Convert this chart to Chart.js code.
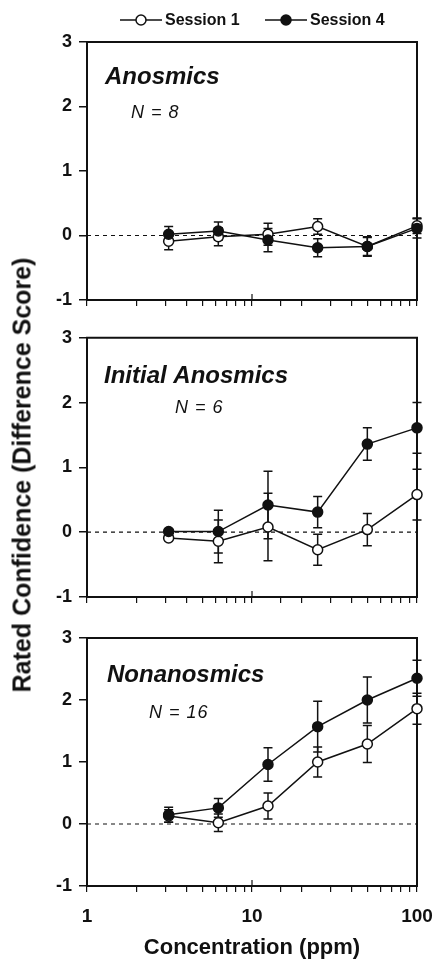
<!DOCTYPE html>
<html><head><meta charset="utf-8">
<script src="https://cdn.jsdelivr.net/npm/chart.js@4.4.1/dist/chart.umd.min.js"></script>
<style>
html,body{margin:0;padding:0;background:#fff;width:434px;height:959px;overflow:hidden;position:relative;}
canvas{position:absolute;left:0;}
#ytitle{position:absolute;left:22px;top:475px;transform:translate(-50%,-50%) rotate(-90deg);white-space:nowrap;font:bold 25px "Liberation Sans",Arial,sans-serif;color:#111;}
</style></head><body>
<canvas id="c1" width="434" height="320" style="top:0px"></canvas>
<canvas id="c2" width="434" height="300" style="top:320px"></canvas>
<canvas id="c3" width="434" height="339" style="top:620px"></canvas>
<div id="ytitle">Rated Confidence (Difference Score)</div>
<script>
// ---- data ----
const concentrations = [3.125, 6.25, 12.5, 25, 50, 100];
const seriesNames = ['Session 1', 'Session 4'];
const panelTitles = ['Anosmics', 'Initial Anosmics', 'Nonanosmics'];
const panelN = ['N = 8', 'N = 6', 'N = 16'];

const anosmicsS1 = [-0.09, -0.02, 0.02, 0.14, -0.17, 0.15];
const anosmicsS1Err = [0.13, 0.14, 0.17, 0.12, 0.14, 0.12];
const anosmicsS4 = [0.02, 0.07, -0.07, -0.19, -0.17, 0.11];
const anosmicsS4Err = [0.12, 0.14, 0.18, 0.14, 0.15, 0.15];

const initialS1 = [-0.09, -0.14, 0.08, -0.27, 0.04, 0.58];
const initialS1Err = [0.04, 0.33, 0.52, 0.24, 0.25, 0.39];
const initialS4 = [0.01, 0.01, 0.42, 0.31, 1.36, 1.61];
const initialS4Err = [0.04, 0.33, 0.52, 0.24, 0.25, 0.39];

const nonanosmicsS1 = [0.13, 0.02, 0.29, 1.00, 1.29, 1.86];
const nonanosmicsS1Err = [0.10, 0.14, 0.21, 0.24, 0.30, 0.25];
const nonanosmicsS4 = [0.15, 0.26, 0.96, 1.57, 2.00, 2.35];
const nonanosmicsS4Err = [0.12, 0.15, 0.27, 0.41, 0.37, 0.29];

const zeroLineX = [1, 100];
const xTickLabels = [1, 10, 100];
const yTickValues = [-1, 0, 1, 2, 3];
const xTitle = 'Concentration (ppm)';

// ---- style ----
const INK = '#111';
const FAMILY = '"Liberation Sans", Arial, Helvetica, sans-serif';
Chart.defaults.font.family = FAMILY;
Chart.defaults.color = INK;

const errorBars = {
  id: 'errorBars',
  beforeDatasetsDraw(chart) {
    const {ctx} = chart;
    const ys = chart.scales.y;
    ctx.save();
    ctx.strokeStyle = INK;
    ctx.lineWidth = 1.5;
    chart.data.datasets.forEach((ds, i) => {
      if (!ds.errors) return;
      const meta = chart.getDatasetMeta(i);
      meta.data.forEach((pt, j) => {
        const v = ds.data[j].y, e = ds.errors[j];
        const yt = ys.getPixelForValue(v + e), yb = ys.getPixelForValue(v - e);
        ctx.beginPath();
        ctx.moveTo(pt.x, yt); ctx.lineTo(pt.x, yb);
        ctx.moveTo(pt.x - 4.5, yt); ctx.lineTo(pt.x + 4.5, yt);
        ctx.moveTo(pt.x - 4.5, yb); ctx.lineTo(pt.x + 4.5, yb);
        ctx.stroke();
      });
    });
    ctx.restore();
  }
};

const frameBox = {
  id: 'frameBox',
  beforeDatasetsDraw(chart) {
    const {ctx, chartArea: a} = chart;
    const xs = chart.scales.x;
    ctx.save();
    ctx.strokeStyle = INK;
    ctx.lineWidth = 2;
    ctx.beginPath();
    ctx.moveTo(a.left - 1, a.top);
    ctx.lineTo(a.right, a.top);
    ctx.lineTo(a.right, a.bottom + 1);
    ctx.stroke();
    // decade ticks also reach a little into the plot
    ctx.lineWidth = 1.2;
    xTickLabels.forEach(v => {
      const px = Math.round(xs.getPixelForValue(v));
      ctx.beginPath();
      ctx.moveTo(px, a.bottom);
      ctx.lineTo(px, a.bottom - 6);
      ctx.stroke();
    });
    ctx.restore();
  }
};

const panelText = {
  id: 'panelText',
  afterDatasetsDraw(chart, args, o) {
    if (!o || !o.title) return;
    const {ctx, chartArea: a} = chart;
    ctx.save();
    ctx.fillStyle = INK;
    ctx.textAlign = 'left';
    ctx.textBaseline = 'alphabetic';
    ctx.font = 'italic bold 24px ' + FAMILY;
    ctx.fillText(o.title, a.left + o.tx, a.top + o.ty);
    ctx.font = 'italic 18px ' + FAMILY;
    try { ctx.letterSpacing = '1px'; } catch (e) {}
    ctx.fillText(o.n, a.left + o.nx, a.top + o.ny);
    ctx.restore();
  }
};

const seriesKey = {
  id: 'seriesKey',
  afterDraw(chart, args, o) {
    if (!o || !o.items) return;
    const {ctx} = chart;
    ctx.save();
    chart.data.datasets.slice(0, 2).forEach((ds, i) => {
      const x = o.items[i], y = o.y;
      ctx.strokeStyle = INK;
      ctx.lineWidth = 1.5;
      ctx.beginPath(); ctx.moveTo(x, y); ctx.lineTo(x + 42, y); ctx.stroke();
      ctx.beginPath(); ctx.arc(x + 21, y, 5, 0, Math.PI * 2);
      ctx.fillStyle = ds.pointBackgroundColor; ctx.fill();
      ctx.lineWidth = 1.5; ctx.stroke();
      ctx.fillStyle = INK;
      ctx.font = 'bold 16px ' + FAMILY;
      ctx.textBaseline = 'middle';
      ctx.textAlign = 'left';
      ctx.fillText(ds.label, x + 45, y + 0.5);
    });
    ctx.restore();
  }
};

function isTick(v, list) { return list.some(t => Math.abs(v - t) < 1e-6 * Math.max(1, Math.abs(t))); }

function makePanel(id, p, s1, e1, s4, e4, o) {
  const pts = arr => concentrations.map((c, i) => ({x: c, y: arr[i]}));
  return new Chart(document.getElementById(id), {
    type: 'line',
    data: {
      datasets: [
        {label: seriesNames[0], data: pts(s1), errors: e1, borderColor: INK, borderWidth: 1.5,
         pointRadius: 5, pointBorderWidth: 1.5, pointBackgroundColor: '#fff', pointBorderColor: INK, order: 2, clip: false},
        {label: seriesNames[1], data: pts(s4), errors: e4, borderColor: INK, borderWidth: 1.5,
         pointRadius: 5, pointBorderWidth: 1.5, pointBackgroundColor: INK, pointBorderColor: INK, order: 1, clip: false},
        {label: 'zero', data: zeroLineX.map(x => ({x, y: 0})), borderColor: INK, borderWidth: 1.2,
         borderDash: [4, 4], pointRadius: 0, order: 3}
      ]
    },
    options: {
      responsive: false, animation: false, devicePixelRatio: 1,
      layout: {padding: {left: 0, right: 17, top: o.top, bottom: 0}},
      plugins: {
        legend: {display: false}, tooltip: {enabled: false},
        panelText: Object.assign({title: panelTitles[p], n: panelN[p]}, o.text),
        seriesKey: o.key || {}
      },
      scales: {
        x: {
          type: 'logarithmic', min: 1, max: 100,
          afterFit: s => { s.height = o.xh; s.paddingLeft = 0; s.paddingRight = 0; },
          ticks: {autoSkip: false, maxRotation: 0, minRotation: 0, padding: 13, color: INK,
                  font: {size: 19, weight: 'bold'},
                  callback: v => (o.showX && isTick(v, xTickLabels)) ? String(Math.round(v)) : ''},
          grid: {drawOnChartArea: false, drawTicks: true, tickLength: 6, color: INK, lineWidth: 1.2},
          border: {display: true, color: INK, width: 2},
          title: {display: !!o.showX, text: xTitle, color: INK, padding: 0,
                  font: {size: 22, weight: 'bold', lineHeight: 1}}
        },
        y: {
          min: -1, max: 3,
          afterFit: s => { s.width = 87; },
          ticks: {stepSize: 1, padding: 7, color: INK, font: {size: 18, weight: 'bold'},
                  callback: v => isTick(v, yTickValues) ? String(v) : ''},
          grid: {drawOnChartArea: false, drawTicks: true, tickLength: 8, color: INK, lineWidth: 1.5},
          border: {display: true, color: INK, width: 2}
        }
      }
    },
    plugins: [errorBars, frameBox, panelText, seriesKey]
  });
}

makePanel('c1', 0, anosmicsS1, anosmicsS1Err, anosmicsS4, anosmicsS4Err,
  {top: 42, xh: 20, showX: false, text: {tx: 18, ty: 42, nx: 44, ny: 76}, key: {items: [120, 265], y: 20}});
makePanel('c2', 1, initialS1, initialS1Err, initialS4, initialS4Err,
  {top: 17, xh: 23, showX: false, text: {tx: 17, ty: 45, nx: 88, ny: 75}});
makePanel('c3', 2, nonanosmicsS1, nonanosmicsS1Err, nonanosmicsS4, nonanosmicsS4Err,
  {top: 18, xh: 73, showX: true, text: {tx: 20, ty: 44, nx: 62, ny: 80}});
</script>
</body></html>
